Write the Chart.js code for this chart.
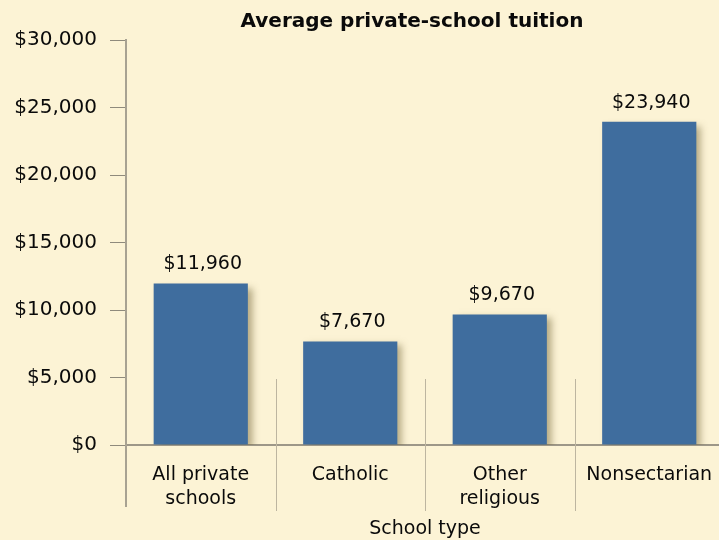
<!DOCTYPE html>
<html>
<head>
<meta charset="utf-8">
<script src="https://cdn.jsdelivr.net/npm/chart.js@4"></script>
<style>
    html, body { margin: 0; padding: 0; overflow: hidden; background: #fcf3d5; }
    .chart { position: relative; width: 724px; height: 540px; }
</style>
</head>
<body>
<div class="chart"><canvas id="chart"></canvas></div>
<script>
const categories = [['All private', 'schools'], ['Catholic'], ['Other', 'religious'], ['Nonsectarian']];
const tuition = [11960, 7670, 9670, 23940];
const yTickValues = [0, 5000, 10000, 15000, 20000, 25000, 30000];
const chartTitle = 'Average private-school tuition';
const xTitle = 'School type';

const FONT = "'DejaVu Sans', sans-serif";
const money = (v) => '$' + v.toLocaleString('en-US');

// bar shadow, value labels, separators and title
const decorations = {
    id: 'decorations',
    beforeDatasetDraw(chart) {
        const ctx = chart.ctx;
        ctx.save();
        ctx.shadowColor = 'rgba(110, 95, 50, 0.5)';
        ctx.shadowBlur = 7;
        ctx.shadowOffsetX = 5;
        ctx.shadowOffsetY = 4;
    },
    afterDatasetDraw(chart) {
        chart.ctx.restore();
    },
    afterDraw(chart) {
        const ctx = chart.ctx;
        const { left, bottom } = chart.chartArea;
        const x = chart.scales.x;

        ctx.save();
        // y axis continues below the baseline
        ctx.strokeStyle = '#a8a292';
        ctx.lineWidth = 2;
        ctx.beginPath();
        ctx.moveTo(left, bottom);
        ctx.lineTo(left, bottom + 62);
        ctx.stroke();

        // separators between categories
        ctx.strokeStyle = '#bdb5a0';
        ctx.lineWidth = 1;
        for (let i = 0; i < categories.length - 1; i++) {
            const px = Math.round((x.getPixelForValue(i) + x.getPixelForValue(i + 1)) / 2) + 0.5;
            ctx.beginPath();
            ctx.moveTo(px, bottom - 66);
            ctx.lineTo(px, bottom + 66);
            ctx.stroke();
        }

        // values above bars
        ctx.fillStyle = '#0a0a0a';
        ctx.font = '19px ' + FONT;
        ctx.textAlign = 'center';
        ctx.textBaseline = 'middle';
        chart.getDatasetMeta(0).data.forEach((bar, i) => {
            ctx.fillText(money(tuition[i]), bar.x + 2, bar.y - 19);
        });

        // title
        ctx.font = 'bold 20px ' + FONT;
        ctx.fillText(chartTitle, 412, 22);
        ctx.restore();
    }
};

new Chart(document.getElementById('chart'), {
    type: 'bar',
    data: {
        labels: categories,
        datasets: [{
            data: tuition,
            backgroundColor: '#3f6d9e',
            borderWidth: 0,
            categoryPercentage: 1,
            barPercentage: 0.63
        }]
    },
    options: {
        responsive: true,
        maintainAspectRatio: false,
        animation: false,
        layout: { padding: { top: 40, right: 0, bottom: 0, left: 0 } },
        plugins: {
            legend: { display: false },
            tooltip: { enabled: false }
        },
        scales: {
            x: {
                afterFit: (scale) => { scale.height = 95; },
                grid: { display: false },
                border: { display: true, color: '#9d9788', width: 2 },
                ticks: { color: '#0a0a0a', font: { family: FONT, size: 19, lineHeight: 1.27 }, padding: 10, maxRotation: 0 },
                title: { display: true, text: xTitle, color: '#0a0a0a', font: { family: FONT, size: 19 }, padding: { top: 0, bottom: 0 } }
            },
            y: {
                min: 0,
                max: 30000,
                afterFit: (scale) => { scale.width = 126; },
                afterBuildTicks: (scale) => { scale.ticks = yTickValues.map((value) => ({ value })); },
                grid: { drawOnChartArea: false, drawTicks: true, tickLength: 16, color: '#8f8a7c', lineWidth: 1 },
                border: { display: true, color: '#a8a292', width: 2 },
                ticks: { color: '#0a0a0a', font: { family: FONT, size: 20 }, padding: 13, callback: (v) => money(v) }
            }
        }
    },
    plugins: [decorations]
});
</script>
</body>
</html>
